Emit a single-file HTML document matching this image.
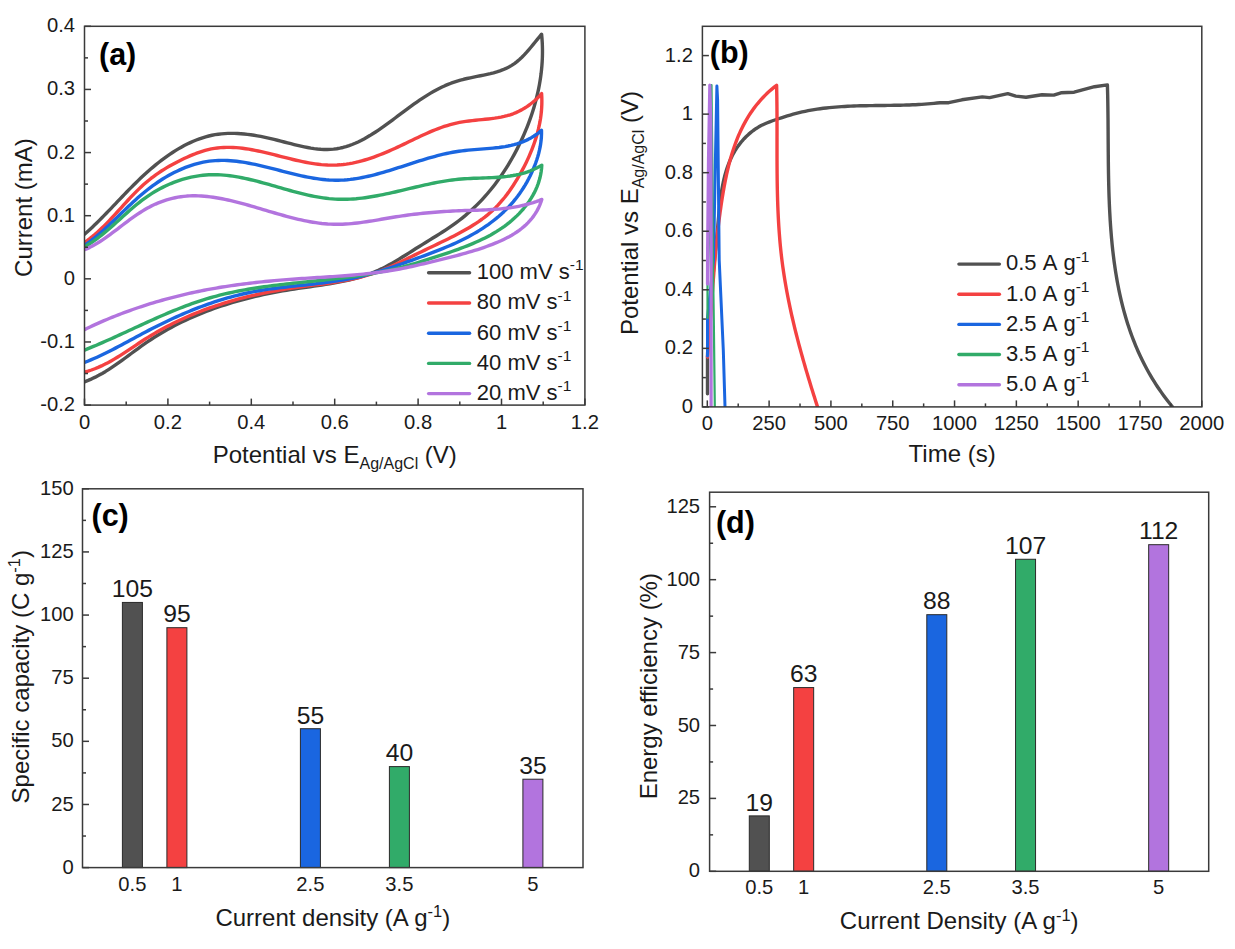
<!DOCTYPE html>
<html><head><meta charset="utf-8"><style>
html,body{margin:0;padding:0;background:#fff;}
body{width:1235px;height:949px;overflow:hidden;}
svg{display:block;font-family:"Liberation Sans",sans-serif;}
</style></head><body>
<svg width="1235" height="949" viewBox="0 0 1235 949">
<rect width="1235" height="949" fill="#fff"/>
<defs><clipPath id="clipA"><rect x="84.5" y="26.3" width="500.4" height="378.8"/></clipPath>
<clipPath id="clipB"><rect x="702.4" y="26.3" width="499.4" height="380.6"/></clipPath></defs>
<g clip-path="url(#clipA)">
<path d="M84.50,234.30 L87.07,232.01 L89.60,229.71 L92.09,227.39 L94.54,225.06 L96.95,222.73 L99.33,220.38 L101.69,218.03 L104.01,215.67 L106.32,213.31 L108.61,210.94 L110.89,208.57 L113.15,206.20 L115.41,203.83 L117.66,201.45 L119.91,199.09 L122.17,196.72 L124.43,194.36 L126.70,192.01 L128.98,189.66 L131.29,187.32 L133.61,184.99 L135.95,182.67 L138.33,180.36 L140.73,178.07 L143.17,175.78 L145.65,173.52 L148.16,171.27 L150.72,169.04 L153.32,166.84 L155.96,164.66 L158.64,162.52 L161.35,160.42 L164.10,158.37 L166.89,156.36 L169.70,154.40 L172.55,152.50 L175.43,150.67 L178.34,148.90 L181.28,147.21 L184.24,145.59 L187.23,144.05 L190.25,142.60 L193.28,141.25 L196.34,139.98 L199.42,138.82 L202.52,137.77 L205.64,136.82 L208.78,135.99 L211.93,135.28 L215.09,134.69 L218.27,134.21 L221.47,133.85 L224.68,133.58 L227.90,133.42 L231.13,133.36 L234.38,133.39 L237.63,133.51 L240.90,133.71 L244.18,133.99 L247.47,134.35 L250.77,134.78 L254.07,135.28 L257.39,135.83 L260.71,136.45 L264.04,137.12 L267.38,137.84 L270.73,138.60 L274.08,139.41 L277.43,140.25 L280.79,141.11 L284.15,141.98 L287.51,142.85 L290.87,143.71 L294.22,144.56 L297.57,145.37 L300.91,146.13 L304.25,146.85 L307.57,147.50 L310.88,148.08 L314.18,148.57 L317.46,148.97 L320.72,149.26 L323.97,149.43 L327.19,149.48 L330.40,149.38 L333.57,149.14 L336.73,148.74 L339.86,148.18 L342.96,147.47 L346.04,146.62 L349.09,145.63 L352.12,144.51 L355.13,143.28 L358.12,141.93 L361.08,140.48 L364.02,138.94 L366.94,137.30 L369.85,135.59 L372.73,133.81 L375.59,131.97 L378.44,130.07 L381.27,128.12 L384.08,126.14 L386.87,124.13 L389.65,122.09 L392.41,120.04 L395.16,117.99 L397.90,115.93 L400.62,113.89 L403.33,111.85 L406.04,109.84 L408.74,107.85 L411.44,105.88 L414.14,103.94 L416.85,102.04 L419.57,100.17 L422.30,98.34 L425.05,96.56 L427.82,94.83 L430.61,93.15 L433.42,91.53 L436.26,89.97 L439.14,88.47 L442.05,87.04 L445.00,85.68 L447.99,84.40 L451.03,83.21 L454.12,82.09 L457.25,81.06 L460.45,80.13 L463.69,79.28 L466.98,78.51 L470.30,77.79 L473.64,77.10 L477.00,76.44 L480.36,75.78 L483.70,75.10 L487.03,74.38 L490.33,73.62 L493.59,72.79 L496.80,71.87 L499.94,70.85 L503.02,69.70 L506.01,68.42 L508.91,66.98 L511.71,65.37 L514.40,63.57 L516.98,61.60 L519.47,59.48 L521.88,57.22 L524.22,54.85 L526.49,52.39 L528.72,49.86 L530.91,47.27 L533.06,44.64 L535.20,42.01 L537.33,39.37 L539.46,36.76 L541.60,34.20 L541.60,34.20 L541.96,38.12 L542.22,42.04 L542.39,45.96 L542.47,49.88 L542.46,53.80 L542.37,57.72 L542.18,61.63 L541.91,65.54 L541.56,69.44 L541.13,73.34 L540.61,77.23 L540.02,81.10 L539.35,84.97 L538.60,88.83 L537.78,92.67 L536.88,96.51 L535.92,100.32 L534.88,104.12 L533.78,107.91 L532.60,111.68 L531.37,115.42 L530.07,119.15 L528.70,122.86 L527.28,126.54 L525.80,130.21 L524.25,133.84 L522.66,137.46 L521.00,141.04 L519.30,144.60 L517.54,148.13 L515.73,151.63 L513.87,155.10 L511.95,158.54 L509.98,161.94 L507.96,165.30 L505.88,168.63 L503.75,171.92 L501.57,175.17 L499.33,178.38 L497.04,181.54 L494.69,184.66 L492.29,187.73 L489.83,190.76 L487.32,193.73 L484.75,196.66 L482.12,199.53 L479.44,202.35 L476.70,205.12 L473.91,207.83 L471.05,210.48 L468.14,213.07 L465.18,215.60 L462.15,218.07 L459.07,220.47 L455.93,222.82 L452.74,225.10 L449.50,227.34 L446.23,229.54 L442.92,231.71 L439.59,233.84 L436.23,235.96 L432.85,238.06 L429.46,240.15 L426.07,242.24 L422.67,244.33 L419.28,246.43 L415.89,248.56 L412.52,250.69 L409.15,252.82 L405.77,254.95 L402.40,257.06 L399.01,259.13 L395.61,261.16 L392.20,263.14 L388.76,265.06 L385.30,266.90 L381.82,268.66 L378.29,270.32 L374.73,271.88 L371.13,273.33 L367.50,274.67 L363.83,275.91 L360.13,277.07 L356.40,278.14 L352.64,279.13 L348.85,280.05 L345.04,280.91 L341.21,281.70 L337.36,282.45 L333.49,283.15 L329.61,283.80 L325.71,284.43 L321.80,285.03 L317.88,285.61 L313.96,286.17 L310.03,286.73 L306.10,287.28 L302.17,287.84 L298.24,288.41 L294.32,289.00 L290.40,289.61 L286.48,290.25 L282.58,290.92 L278.68,291.62 L274.80,292.34 L270.92,293.10 L267.05,293.89 L263.19,294.70 L259.34,295.55 L255.50,296.44 L251.68,297.35 L247.86,298.30 L244.06,299.29 L240.27,300.31 L236.49,301.36 L232.73,302.46 L228.98,303.59 L225.25,304.76 L221.53,305.97 L217.83,307.22 L214.14,308.51 L210.47,309.84 L206.82,311.21 L203.19,312.62 L199.57,314.08 L195.97,315.58 L192.39,317.13 L188.83,318.73 L185.29,320.36 L181.77,322.05 L178.27,323.78 L174.79,325.57 L171.33,327.40 L167.90,329.28 L164.49,331.21 L161.10,333.19 L157.73,335.23 L154.39,337.31 L151.08,339.45 L147.78,341.65 L144.52,343.90 L141.27,346.19 L138.05,348.53 L134.83,350.88 L131.62,353.25 L128.42,355.63 L125.21,358.00 L121.99,360.35 L118.75,362.67 L115.50,364.95 L112.22,367.17 L108.91,369.34 L105.57,371.43 L102.19,373.43 L98.76,375.34 L95.29,377.14 L91.75,378.83 L88.16,380.38 L84.50,381.80" fill="none" stroke="#515151" stroke-width="3.4" stroke-linejoin="round" stroke-linecap="round"/>
<path d="M84.50,242.40 L87.15,240.52 L89.74,238.58 L92.27,236.58 L94.74,234.53 L97.15,232.42 L99.52,230.28 L101.85,228.09 L104.13,225.87 L106.38,223.61 L108.60,221.33 L110.80,219.02 L112.97,216.70 L115.13,214.36 L117.27,212.01 L119.41,209.65 L121.54,207.29 L123.67,204.94 L125.81,202.59 L127.96,200.26 L130.12,197.93 L132.30,195.63 L134.51,193.36 L136.74,191.11 L139.01,188.90 L141.31,186.72 L143.65,184.58 L146.04,182.50 L148.48,180.46 L150.97,178.47 L153.50,176.54 L156.09,174.65 L158.72,172.82 L161.40,171.04 L164.11,169.31 L166.86,167.63 L169.65,166.00 L172.48,164.41 L175.33,162.88 L178.22,161.39 L181.13,159.95 L184.07,158.56 L187.03,157.21 L190.01,155.91 L193.01,154.66 L196.03,153.47 L199.06,152.36 L202.11,151.34 L205.17,150.42 L208.24,149.61 L211.31,148.93 L214.40,148.38 L217.49,147.95 L220.59,147.64 L223.70,147.44 L226.81,147.35 L229.92,147.36 L233.05,147.46 L236.17,147.66 L239.31,147.93 L242.44,148.28 L245.58,148.71 L248.73,149.19 L251.88,149.74 L255.03,150.34 L258.18,150.98 L261.34,151.67 L264.50,152.39 L267.66,153.15 L270.82,153.92 L273.98,154.71 L277.15,155.52 L280.31,156.32 L283.48,157.13 L286.64,157.93 L289.81,158.72 L292.97,159.49 L296.14,160.24 L299.30,160.96 L302.46,161.64 L305.62,162.27 L308.77,162.86 L311.92,163.40 L315.07,163.87 L318.22,164.28 L321.36,164.62 L324.50,164.88 L327.64,165.06 L330.77,165.15 L333.89,165.14 L337.01,165.03 L340.13,164.82 L343.23,164.51 L346.34,164.11 L349.43,163.62 L352.52,163.05 L355.60,162.40 L358.67,161.67 L361.73,160.87 L364.79,160.00 L367.83,159.07 L370.87,158.08 L373.89,157.03 L376.91,155.93 L379.91,154.78 L382.90,153.59 L385.88,152.36 L388.85,151.09 L391.81,149.79 L394.75,148.46 L397.68,147.11 L400.60,145.74 L403.50,144.36 L406.40,142.97 L409.29,141.58 L412.17,140.18 L415.05,138.80 L417.93,137.42 L420.82,136.07 L423.70,134.73 L426.60,133.43 L429.50,132.15 L432.41,130.92 L435.34,129.73 L438.28,128.59 L441.24,127.50 L444.22,126.48 L447.22,125.52 L450.25,124.62 L453.30,123.81 L456.38,123.07 L459.49,122.43 L462.63,121.86 L465.80,121.38 L468.99,120.96 L472.20,120.59 L475.42,120.25 L478.65,119.93 L481.88,119.63 L485.11,119.31 L488.32,118.97 L491.52,118.59 L494.71,118.17 L497.86,117.68 L500.99,117.11 L504.08,116.45 L507.13,115.69 L510.14,114.80 L513.09,113.78 L515.99,112.62 L518.83,111.32 L521.61,109.88 L524.34,108.30 L527.00,106.59 L529.60,104.75 L532.13,102.78 L534.60,100.67 L537.01,98.44 L539.34,96.08 L541.60,93.60 L541.60,93.60 L541.80,97.21 L541.87,100.81 L541.82,104.40 L541.66,107.98 L541.38,111.56 L540.99,115.12 L540.49,118.66 L539.89,122.20 L539.19,125.72 L538.39,129.22 L537.50,132.71 L536.52,136.18 L535.45,139.63 L534.30,143.05 L533.08,146.46 L531.77,149.85 L530.39,153.21 L528.95,156.55 L527.44,159.86 L525.86,163.14 L524.23,166.40 L522.55,169.63 L520.81,172.83 L519.02,175.99 L517.18,179.12 L515.29,182.22 L513.35,185.27 L511.34,188.27 L509.28,191.22 L507.15,194.12 L504.96,196.96 L502.70,199.73 L500.37,202.44 L497.97,205.08 L495.49,207.65 L492.93,210.13 L490.29,212.54 L487.57,214.86 L484.77,217.09 L481.89,219.25 L478.96,221.33 L475.96,223.34 L472.92,225.29 L469.83,227.18 L466.70,229.01 L463.55,230.80 L460.37,232.54 L457.18,234.24 L453.97,235.91 L450.76,237.55 L447.53,239.16 L444.29,240.75 L441.05,242.33 L437.80,243.89 L434.54,245.45 L431.28,247.00 L428.02,248.55 L424.76,250.11 L421.49,251.68 L418.22,253.27 L414.96,254.87 L411.70,256.49 L408.43,258.11 L405.16,259.72 L401.88,261.32 L398.60,262.91 L395.31,264.46 L392.00,265.98 L388.69,267.45 L385.35,268.88 L382.00,270.24 L378.63,271.53 L375.25,272.75 L371.83,273.89 L368.40,274.96 L364.95,275.95 L361.49,276.88 L358.00,277.74 L354.50,278.55 L350.98,279.31 L347.45,280.02 L343.91,280.68 L340.36,281.31 L336.80,281.89 L333.23,282.45 L329.65,282.98 L326.06,283.49 L322.47,283.99 L318.87,284.46 L315.27,284.93 L311.67,285.40 L308.07,285.87 L304.47,286.34 L300.87,286.82 L297.27,287.31 L293.68,287.82 L290.09,288.35 L286.50,288.91 L282.92,289.49 L279.35,290.09 L275.78,290.72 L272.22,291.37 L268.67,292.05 L265.12,292.76 L261.58,293.49 L258.05,294.25 L254.53,295.04 L251.01,295.85 L247.51,296.69 L244.01,297.57 L240.52,298.47 L237.04,299.40 L233.58,300.36 L230.12,301.35 L226.67,302.37 L223.24,303.43 L219.81,304.51 L216.40,305.63 L213.00,306.78 L209.61,307.97 L206.23,309.18 L202.86,310.44 L199.51,311.72 L196.18,313.04 L192.85,314.40 L189.54,315.79 L186.25,317.22 L182.97,318.69 L179.70,320.19 L176.45,321.73 L173.21,323.31 L169.99,324.93 L166.79,326.58 L163.61,328.28 L160.44,330.01 L157.28,331.79 L154.15,333.61 L151.03,335.46 L147.93,337.36 L144.85,339.30 L141.79,341.28 L138.74,343.28 L135.69,345.30 L132.65,347.33 L129.61,349.36 L126.56,351.37 L123.50,353.37 L120.43,355.33 L117.34,357.25 L114.23,359.12 L111.09,360.93 L107.92,362.68 L104.71,364.34 L101.47,365.91 L98.18,367.38 L94.84,368.75 L91.45,370.00 L88.01,371.12 L84.50,372.10" fill="none" stroke="#f44141" stroke-width="3.4" stroke-linejoin="round" stroke-linecap="round"/>
<path d="M84.50,245.40 L87.04,243.61 L89.54,241.77 L91.99,239.88 L94.41,237.96 L96.80,235.99 L99.16,233.99 L101.49,231.96 L103.80,229.90 L106.09,227.81 L108.36,225.71 L110.62,223.58 L112.86,221.44 L115.10,219.29 L117.34,217.13 L119.57,214.96 L121.81,212.79 L124.05,210.63 L126.30,208.46 L128.56,206.31 L130.84,204.16 L133.13,202.04 L135.45,199.92 L137.79,197.83 L140.15,195.77 L142.55,193.73 L144.99,191.72 L147.45,189.75 L149.96,187.81 L152.51,185.91 L155.10,184.06 L157.72,182.25 L160.37,180.50 L163.06,178.79 L165.78,177.15 L168.53,175.56 L171.30,174.03 L174.11,172.57 L176.93,171.17 L179.79,169.85 L182.66,168.59 L185.56,167.42 L188.47,166.33 L191.40,165.32 L194.35,164.39 L197.32,163.56 L200.29,162.81 L203.28,162.16 L206.28,161.61 L209.29,161.17 L212.31,160.82 L215.33,160.58 L218.36,160.43 L221.39,160.37 L224.43,160.40 L227.48,160.51 L230.53,160.70 L233.59,160.96 L236.65,161.29 L239.72,161.69 L242.79,162.14 L245.86,162.65 L248.94,163.21 L252.02,163.81 L255.10,164.45 L258.19,165.13 L261.28,165.84 L264.37,166.58 L267.46,167.34 L270.55,168.11 L273.64,168.90 L276.74,169.70 L279.83,170.50 L282.92,171.30 L286.02,172.09 L289.11,172.88 L292.20,173.64 L295.29,174.39 L298.38,175.12 L301.46,175.81 L304.55,176.47 L307.63,177.10 L310.71,177.68 L313.78,178.21 L316.85,178.69 L319.92,179.12 L322.98,179.48 L326.04,179.78 L329.09,180.00 L332.14,180.15 L335.18,180.23 L338.22,180.21 L341.25,180.12 L344.27,179.95 L347.30,179.71 L350.31,179.40 L353.32,179.02 L356.33,178.57 L359.34,178.07 L362.34,177.51 L365.34,176.90 L368.34,176.25 L371.33,175.54 L374.32,174.79 L377.32,174.01 L380.31,173.19 L383.30,172.34 L386.29,171.46 L389.28,170.56 L392.27,169.64 L395.26,168.69 L398.25,167.74 L401.25,166.78 L404.24,165.81 L407.24,164.83 L410.24,163.86 L413.24,162.89 L416.25,161.93 L419.26,160.98 L422.27,160.04 L425.29,159.13 L428.31,158.23 L431.34,157.36 L434.37,156.52 L437.41,155.71 L440.46,154.93 L443.51,154.20 L446.56,153.51 L449.63,152.86 L452.70,152.26 L455.78,151.72 L458.87,151.24 L461.96,150.81 L465.06,150.44 L468.17,150.12 L471.28,149.84 L474.40,149.58 L477.51,149.34 L480.62,149.12 L483.72,148.89 L486.81,148.66 L489.90,148.41 L492.98,148.13 L496.04,147.81 L499.08,147.46 L502.11,147.04 L505.12,146.57 L508.11,146.02 L511.07,145.38 L514.01,144.66 L516.92,143.84 L519.80,142.91 L522.64,141.86 L525.46,140.68 L528.23,139.36 L530.97,137.90 L533.67,136.28 L536.33,134.50 L538.94,132.54 L541.50,130.40 L541.50,130.40 L541.52,133.69 L541.39,136.99 L541.11,140.30 L540.69,143.61 L540.14,146.91 L539.46,150.21 L538.66,153.50 L537.74,156.78 L536.71,160.04 L535.58,163.28 L534.34,166.49 L533.02,169.68 L531.61,172.83 L530.11,175.95 L528.53,179.03 L526.88,182.07 L525.14,185.06 L523.33,188.00 L521.44,190.89 L519.49,193.71 L517.46,196.48 L515.36,199.18 L513.19,201.81 L510.95,204.37 L508.66,206.87 L506.30,209.29 L503.88,211.66 L501.40,213.95 L498.87,216.19 L496.29,218.36 L493.65,220.47 L490.97,222.52 L488.24,224.52 L485.47,226.45 L482.65,228.33 L479.80,230.16 L476.90,231.93 L473.97,233.65 L471.01,235.31 L468.02,236.93 L464.99,238.50 L461.94,240.02 L458.86,241.51 L455.77,242.95 L452.64,244.35 L449.50,245.72 L446.35,247.06 L443.17,248.38 L439.98,249.66 L436.79,250.93 L433.58,252.17 L430.36,253.40 L427.14,254.61 L423.91,255.81 L420.68,257.00 L417.46,258.19 L414.23,259.37 L411.00,260.55 L407.78,261.71 L404.55,262.87 L401.33,264.02 L398.10,265.15 L394.87,266.26 L391.63,267.35 L388.39,268.43 L385.15,269.48 L381.90,270.50 L378.65,271.50 L375.38,272.47 L372.12,273.41 L368.84,274.31 L365.55,275.18 L362.26,276.01 L358.95,276.79 L355.63,277.54 L352.30,278.24 L348.96,278.90 L345.61,279.53 L342.25,280.11 L338.88,280.66 L335.51,281.19 L332.12,281.68 L328.73,282.15 L325.33,282.59 L321.93,283.02 L318.52,283.43 L315.11,283.82 L311.70,284.21 L308.28,284.58 L304.87,284.95 L301.45,285.32 L298.03,285.68 L294.61,286.05 L291.19,286.43 L287.78,286.81 L284.37,287.20 L280.96,287.60 L277.55,288.02 L274.15,288.46 L270.76,288.93 L267.37,289.41 L263.99,289.93 L260.62,290.47 L257.25,291.05 L253.90,291.66 L250.55,292.31 L247.22,293.00 L243.90,293.73 L240.58,294.50 L237.28,295.30 L233.99,296.15 L230.70,297.03 L227.43,297.95 L224.17,298.90 L220.91,299.88 L217.67,300.91 L214.44,301.96 L211.22,303.04 L208.00,304.16 L204.80,305.31 L201.60,306.49 L198.42,307.69 L195.24,308.93 L192.08,310.19 L188.92,311.48 L185.77,312.80 L182.63,314.14 L179.51,315.51 L176.38,316.90 L173.27,318.31 L170.17,319.75 L167.08,321.21 L163.99,322.69 L160.91,324.19 L157.85,325.70 L154.79,327.24 L151.74,328.80 L148.69,330.37 L145.66,331.96 L142.63,333.56 L139.61,335.18 L136.59,336.80 L133.58,338.43 L130.57,340.06 L127.55,341.69 L124.54,343.31 L121.52,344.93 L118.50,346.53 L115.47,348.12 L112.44,349.70 L109.39,351.25 L106.33,352.77 L103.26,354.27 L100.18,355.74 L97.08,357.17 L93.97,358.57 L90.83,359.92 L87.68,361.24 L84.50,362.50" fill="none" stroke="#1a66e0" stroke-width="3.4" stroke-linejoin="round" stroke-linecap="round"/>
<path d="M84.50,246.80 L87.09,245.30 L89.64,243.72 L92.15,242.07 L94.63,240.35 L97.08,238.57 L99.50,236.74 L101.89,234.85 L104.26,232.92 L106.62,230.95 L108.96,228.95 L111.29,226.92 L113.61,224.87 L115.92,222.80 L118.23,220.71 L120.54,218.62 L122.85,216.54 L125.17,214.45 L127.50,212.38 L129.84,210.32 L132.20,208.28 L134.57,206.27 L136.97,204.29 L139.39,202.35 L141.84,200.46 L144.32,198.61 L146.83,196.82 L149.38,195.08 L151.97,193.41 L154.59,191.80 L157.24,190.26 L159.93,188.78 L162.65,187.37 L165.39,186.03 L168.16,184.75 L170.96,183.55 L173.78,182.42 L176.62,181.36 L179.48,180.37 L182.36,179.46 L185.26,178.62 L188.18,177.87 L191.11,177.19 L194.05,176.59 L197.00,176.07 L199.96,175.63 L202.93,175.28 L205.90,175.01 L208.88,174.82 L211.86,174.73 L214.85,174.71 L217.84,174.78 L220.83,174.92 L223.82,175.14 L226.81,175.42 L229.81,175.77 L232.81,176.18 L235.81,176.65 L238.81,177.17 L241.81,177.74 L244.81,178.36 L247.82,179.02 L250.83,179.72 L253.84,180.45 L256.84,181.21 L259.86,181.99 L262.87,182.81 L265.88,183.63 L268.89,184.48 L271.90,185.33 L274.92,186.20 L277.93,187.06 L280.95,187.93 L283.96,188.79 L286.98,189.65 L289.99,190.49 L293.01,191.32 L296.02,192.12 L299.03,192.91 L302.05,193.67 L305.06,194.39 L308.07,195.09 L311.09,195.74 L314.10,196.35 L317.11,196.91 L320.11,197.43 L323.12,197.89 L326.13,198.29 L329.13,198.64 L332.14,198.91 L335.14,199.12 L338.14,199.25 L341.14,199.32 L344.14,199.32 L347.13,199.25 L350.13,199.13 L353.12,198.94 L356.12,198.71 L359.11,198.41 L362.10,198.08 L365.09,197.69 L368.09,197.26 L371.08,196.79 L374.07,196.29 L377.06,195.75 L380.05,195.18 L383.05,194.58 L386.04,193.96 L389.03,193.32 L392.03,192.65 L395.02,191.97 L398.02,191.28 L401.01,190.58 L404.01,189.87 L407.01,189.15 L410.01,188.44 L413.02,187.73 L416.02,187.02 L419.03,186.32 L422.04,185.63 L425.05,184.95 L428.07,184.30 L431.08,183.66 L434.10,183.04 L437.12,182.45 L440.15,181.89 L443.18,181.36 L446.21,180.87 L449.24,180.41 L452.28,179.99 L455.32,179.62 L458.37,179.29 L461.42,179.02 L464.47,178.79 L467.53,178.60 L470.58,178.44 L473.64,178.31 L476.70,178.20 L479.75,178.10 L482.81,178.00 L485.86,177.89 L488.90,177.78 L491.94,177.64 L494.97,177.48 L498.00,177.29 L501.02,177.05 L504.02,176.76 L507.02,176.42 L510.00,176.01 L512.98,175.53 L515.94,174.98 L518.88,174.33 L521.81,173.60 L524.72,172.76 L527.62,171.82 L530.50,170.75 L533.35,169.57 L536.19,168.25 L539.01,166.80 L541.80,165.20 L541.80,165.20 L541.57,168.48 L541.16,171.71 L540.60,174.89 L539.89,178.02 L539.02,181.10 L538.02,184.12 L536.88,187.10 L535.60,190.01 L534.20,192.88 L532.68,195.68 L531.04,198.42 L529.30,201.11 L527.44,203.73 L525.49,206.29 L523.45,208.78 L521.32,211.21 L519.10,213.58 L516.81,215.87 L514.45,218.09 L512.02,220.25 L509.53,222.33 L506.98,224.34 L504.39,226.27 L501.74,228.13 L499.06,229.92 L496.33,231.64 L493.56,233.30 L490.76,234.90 L487.92,236.43 L485.04,237.92 L482.14,239.35 L479.21,240.73 L476.25,242.07 L473.26,243.36 L470.26,244.62 L467.23,245.83 L464.19,247.02 L461.13,248.17 L458.06,249.30 L454.98,250.40 L451.89,251.48 L448.79,252.55 L445.69,253.60 L442.59,254.63 L439.49,255.66 L436.39,256.68 L433.29,257.70 L430.19,258.71 L427.09,259.70 L424.00,260.69 L420.90,261.65 L417.80,262.61 L414.70,263.54 L411.59,264.45 L408.48,265.34 L405.36,266.21 L402.24,267.04 L399.12,267.85 L395.98,268.63 L392.84,269.38 L389.69,270.09 L386.53,270.78 L383.36,271.44 L380.19,272.07 L377.01,272.68 L373.83,273.26 L370.64,273.82 L367.44,274.36 L364.24,274.87 L361.04,275.37 L357.83,275.85 L354.61,276.31 L351.39,276.75 L348.17,277.18 L344.95,277.59 L341.72,277.99 L338.49,278.38 L335.25,278.76 L332.01,279.13 L328.78,279.49 L325.54,279.85 L322.30,280.20 L319.05,280.54 L315.81,280.88 L312.57,281.22 L309.32,281.56 L306.08,281.89 L302.84,282.23 L299.59,282.57 L296.35,282.91 L293.11,283.26 L289.87,283.62 L286.64,283.98 L283.40,284.35 L280.17,284.72 L276.94,285.11 L273.72,285.51 L270.49,285.93 L267.28,286.35 L264.06,286.79 L260.85,287.25 L257.64,287.73 L254.44,288.22 L251.25,288.74 L248.06,289.27 L244.87,289.83 L241.69,290.41 L238.52,291.01 L235.36,291.64 L232.20,292.30 L229.05,292.98 L225.90,293.70 L222.77,294.44 L219.64,295.22 L216.52,296.03 L213.41,296.87 L210.31,297.74 L207.21,298.66 L204.13,299.60 L201.05,300.58 L197.99,301.60 L194.93,302.64 L191.88,303.71 L188.84,304.81 L185.80,305.94 L182.77,307.09 L179.75,308.27 L176.73,309.47 L173.72,310.69 L170.72,311.93 L167.72,313.19 L164.72,314.46 L161.73,315.75 L158.74,317.06 L155.76,318.37 L152.78,319.70 L149.81,321.04 L146.83,322.38 L143.86,323.74 L140.90,325.09 L137.93,326.46 L134.96,327.82 L132.00,329.19 L129.04,330.56 L126.08,331.92 L123.12,333.28 L120.15,334.64 L117.19,335.99 L114.23,337.34 L111.27,338.68 L108.30,340.00 L105.34,341.32 L102.37,342.62 L99.40,343.91 L96.43,345.19 L93.45,346.44 L90.47,347.68 L87.49,348.90 L84.50,350.10" fill="none" stroke="#31ab69" stroke-width="3.4" stroke-linejoin="round" stroke-linecap="round"/>
<path d="M84.50,249.80 L87.17,248.63 L89.80,247.36 L92.41,246.00 L94.99,244.56 L97.54,243.04 L100.07,241.45 L102.59,239.80 L105.09,238.09 L107.57,236.34 L110.04,234.55 L112.51,232.73 L114.96,230.88 L117.42,229.02 L119.87,227.14 L122.33,225.27 L124.79,223.40 L127.25,221.54 L129.73,219.71 L132.22,217.90 L134.72,216.13 L137.24,214.40 L139.78,212.72 L142.34,211.09 L144.93,209.54 L147.54,208.05 L150.19,206.64 L152.86,205.32 L155.56,204.07 L158.29,202.91 L161.04,201.83 L163.82,200.84 L166.61,199.93 L169.43,199.11 L172.27,198.38 L175.12,197.73 L177.99,197.18 L180.88,196.72 L183.78,196.35 L186.70,196.07 L189.62,195.89 L192.55,195.80 L195.50,195.79 L198.44,195.87 L201.40,196.02 L204.35,196.25 L207.31,196.54 L210.26,196.88 L213.21,197.29 L216.16,197.74 L219.10,198.24 L222.05,198.78 L224.99,199.37 L227.93,200.00 L230.87,200.66 L233.80,201.36 L236.74,202.08 L239.67,202.84 L242.61,203.62 L245.54,204.42 L248.47,205.24 L251.40,206.08 L254.32,206.93 L257.25,207.79 L260.18,208.65 L263.11,209.53 L266.03,210.40 L268.96,211.27 L271.89,212.14 L274.82,213.00 L277.74,213.85 L280.67,214.69 L283.60,215.51 L286.53,216.32 L289.46,217.10 L292.39,217.85 L295.33,218.58 L298.26,219.28 L301.20,219.95 L304.13,220.58 L307.07,221.17 L310.01,221.72 L312.96,222.22 L315.90,222.68 L318.85,223.08 L321.80,223.44 L324.75,223.73 L327.71,223.97 L330.66,224.14 L333.62,224.25 L336.59,224.29 L339.56,224.26 L342.53,224.18 L345.50,224.03 L348.47,223.83 L351.45,223.58 L354.43,223.29 L357.41,222.95 L360.39,222.58 L363.37,222.18 L366.36,221.74 L369.35,221.29 L372.33,220.81 L375.32,220.32 L378.30,219.81 L381.29,219.30 L384.28,218.79 L387.27,218.28 L390.25,217.77 L393.24,217.28 L396.22,216.79 L399.20,216.33 L402.19,215.88 L405.17,215.46 L408.15,215.05 L411.13,214.66 L414.10,214.29 L417.08,213.94 L420.06,213.61 L423.04,213.30 L426.02,213.00 L429.00,212.72 L431.99,212.45 L434.97,212.21 L437.95,211.97 L440.94,211.76 L443.93,211.56 L446.91,211.37 L449.91,211.20 L452.90,211.05 L455.90,210.91 L458.90,210.78 L461.90,210.67 L464.90,210.57 L467.91,210.47 L470.92,210.38 L473.93,210.29 L476.94,210.19 L479.94,210.09 L482.95,209.97 L485.96,209.84 L488.96,209.69 L491.96,209.52 L494.95,209.32 L497.94,209.09 L500.93,208.82 L503.91,208.52 L506.88,208.18 L509.85,207.79 L512.80,207.35 L515.75,206.85 L518.69,206.30 L521.62,205.69 L524.54,205.02 L527.45,204.27 L530.35,203.46 L533.23,202.57 L536.10,201.60 L538.96,200.54 L541.80,199.40 L541.80,199.40 L540.80,202.45 L539.66,205.37 L538.38,208.17 L536.96,210.85 L535.42,213.42 L533.76,215.88 L531.99,218.23 L530.10,220.47 L528.11,222.62 L526.02,224.67 L523.84,226.63 L521.57,228.50 L519.22,230.29 L516.79,231.99 L514.29,233.62 L511.73,235.18 L509.10,236.66 L506.42,238.08 L503.68,239.44 L500.91,240.75 L498.09,241.99 L495.25,243.19 L492.37,244.34 L489.47,245.45 L486.55,246.52 L483.62,247.55 L480.67,248.55 L477.71,249.51 L474.73,250.45 L471.75,251.35 L468.75,252.23 L465.75,253.09 L462.74,253.92 L459.72,254.74 L456.70,255.54 L453.68,256.32 L450.66,257.09 L447.64,257.86 L444.62,258.61 L441.60,259.36 L438.59,260.10 L435.59,260.84 L432.59,261.58 L429.59,262.31 L426.60,263.04 L423.61,263.76 L420.62,264.46 L417.64,265.16 L414.65,265.84 L411.67,266.50 L408.68,267.15 L405.69,267.77 L402.69,268.38 L399.70,268.96 L396.69,269.51 L393.69,270.04 L390.67,270.54 L387.66,271.02 L384.63,271.48 L381.61,271.91 L378.58,272.32 L375.54,272.71 L372.50,273.08 L369.46,273.43 L366.41,273.77 L363.36,274.09 L360.30,274.39 L357.25,274.68 L354.19,274.95 L351.12,275.21 L348.06,275.46 L344.99,275.70 L341.92,275.94 L338.85,276.16 L335.77,276.37 L332.70,276.58 L329.62,276.79 L326.54,276.99 L323.46,277.18 L320.39,277.38 L317.31,277.57 L314.23,277.76 L311.15,277.95 L308.06,278.15 L304.98,278.35 L301.91,278.55 L298.83,278.75 L295.75,278.97 L292.67,279.18 L289.60,279.41 L286.52,279.65 L283.45,279.89 L280.38,280.14 L277.30,280.40 L274.24,280.67 L271.17,280.95 L268.10,281.24 L265.04,281.54 L261.97,281.86 L258.91,282.18 L255.85,282.51 L252.79,282.86 L249.74,283.22 L246.68,283.59 L243.63,283.97 L240.58,284.37 L237.53,284.78 L234.48,285.21 L231.44,285.64 L228.39,286.10 L225.35,286.57 L222.31,287.05 L219.28,287.55 L216.24,288.06 L213.21,288.59 L210.18,289.14 L207.15,289.70 L204.12,290.29 L201.10,290.88 L198.08,291.50 L195.06,292.13 L192.05,292.78 L189.04,293.45 L186.03,294.13 L183.03,294.83 L180.03,295.55 L177.03,296.29 L174.04,297.05 L171.06,297.82 L168.08,298.61 L165.10,299.42 L162.13,300.24 L159.16,301.09 L156.20,301.95 L153.25,302.83 L150.30,303.73 L147.35,304.65 L144.42,305.58 L141.48,306.54 L138.56,307.51 L135.64,308.50 L132.73,309.51 L129.83,310.54 L126.93,311.59 L124.04,312.65 L121.16,313.74 L118.29,314.84 L115.43,315.96 L112.57,317.11 L109.72,318.27 L106.88,319.45 L104.05,320.65 L101.23,321.87 L98.42,323.11 L95.61,324.37 L92.82,325.65 L90.04,326.94 L87.26,328.26 L84.50,329.60" fill="none" stroke="#b274de" stroke-width="3.4" stroke-linejoin="round" stroke-linecap="round"/>
</g>
<rect x="84.5" y="26.3" width="500.4" height="378.8" fill="none" stroke="#3a3a3a" stroke-width="1.5"/>
<line x1="84.5" y1="405.1" x2="91" y2="405.1" stroke="#3a3a3a" stroke-width="1.5"/>
<line x1="84.5" y1="341.97" x2="91" y2="341.97" stroke="#3a3a3a" stroke-width="1.5"/>
<line x1="84.5" y1="278.83" x2="91" y2="278.83" stroke="#3a3a3a" stroke-width="1.5"/>
<line x1="84.5" y1="215.7" x2="91" y2="215.7" stroke="#3a3a3a" stroke-width="1.5"/>
<line x1="84.5" y1="152.57" x2="91" y2="152.57" stroke="#3a3a3a" stroke-width="1.5"/>
<line x1="84.5" y1="89.43" x2="91" y2="89.43" stroke="#3a3a3a" stroke-width="1.5"/>
<line x1="84.5" y1="26.3" x2="91" y2="26.3" stroke="#3a3a3a" stroke-width="1.5"/>
<line x1="84.5" y1="373.53" x2="88" y2="373.53" stroke="#3a3a3a" stroke-width="1.5"/>
<line x1="84.5" y1="310.4" x2="88" y2="310.4" stroke="#3a3a3a" stroke-width="1.5"/>
<line x1="84.5" y1="247.27" x2="88" y2="247.27" stroke="#3a3a3a" stroke-width="1.5"/>
<line x1="84.5" y1="184.13" x2="88" y2="184.13" stroke="#3a3a3a" stroke-width="1.5"/>
<line x1="84.5" y1="121" x2="88" y2="121" stroke="#3a3a3a" stroke-width="1.5"/>
<line x1="84.5" y1="57.87" x2="88" y2="57.87" stroke="#3a3a3a" stroke-width="1.5"/>
<text x="75" y="411.16" font-size="20.2" text-anchor="end" font-weight="normal" fill="#1a1a1a">-0.2</text>
<text x="75" y="348.03" font-size="20.2" text-anchor="end" font-weight="normal" fill="#1a1a1a">-0.1</text>
<text x="75" y="284.89" font-size="20.2" text-anchor="end" font-weight="normal" fill="#1a1a1a">0</text>
<text x="75" y="221.76" font-size="20.2" text-anchor="end" font-weight="normal" fill="#1a1a1a">0.1</text>
<text x="75" y="158.63" font-size="20.2" text-anchor="end" font-weight="normal" fill="#1a1a1a">0.2</text>
<text x="75" y="95.49" font-size="20.2" text-anchor="end" font-weight="normal" fill="#1a1a1a">0.3</text>
<text x="75" y="32.36" font-size="20.2" text-anchor="end" font-weight="normal" fill="#1a1a1a">0.4</text>
<line x1="84.5" y1="405.1" x2="84.5" y2="398.6" stroke="#3a3a3a" stroke-width="1.5"/>
<line x1="167.9" y1="405.1" x2="167.9" y2="398.6" stroke="#3a3a3a" stroke-width="1.5"/>
<line x1="251.3" y1="405.1" x2="251.3" y2="398.6" stroke="#3a3a3a" stroke-width="1.5"/>
<line x1="334.7" y1="405.1" x2="334.7" y2="398.6" stroke="#3a3a3a" stroke-width="1.5"/>
<line x1="418.1" y1="405.1" x2="418.1" y2="398.6" stroke="#3a3a3a" stroke-width="1.5"/>
<line x1="501.5" y1="405.1" x2="501.5" y2="398.6" stroke="#3a3a3a" stroke-width="1.5"/>
<line x1="584.9" y1="405.1" x2="584.9" y2="398.6" stroke="#3a3a3a" stroke-width="1.5"/>
<line x1="126.2" y1="405.1" x2="126.2" y2="401.6" stroke="#3a3a3a" stroke-width="1.5"/>
<line x1="209.6" y1="405.1" x2="209.6" y2="401.6" stroke="#3a3a3a" stroke-width="1.5"/>
<line x1="293" y1="405.1" x2="293" y2="401.6" stroke="#3a3a3a" stroke-width="1.5"/>
<line x1="376.4" y1="405.1" x2="376.4" y2="401.6" stroke="#3a3a3a" stroke-width="1.5"/>
<line x1="459.8" y1="405.1" x2="459.8" y2="401.6" stroke="#3a3a3a" stroke-width="1.5"/>
<line x1="543.2" y1="405.1" x2="543.2" y2="401.6" stroke="#3a3a3a" stroke-width="1.5"/>
<text x="84.5" y="428.7" font-size="20.2" text-anchor="middle" font-weight="normal" fill="#1a1a1a">0</text>
<text x="167.9" y="428.7" font-size="20.2" text-anchor="middle" font-weight="normal" fill="#1a1a1a">0.2</text>
<text x="251.3" y="428.7" font-size="20.2" text-anchor="middle" font-weight="normal" fill="#1a1a1a">0.4</text>
<text x="334.7" y="428.7" font-size="20.2" text-anchor="middle" font-weight="normal" fill="#1a1a1a">0.6</text>
<text x="418.1" y="428.7" font-size="20.2" text-anchor="middle" font-weight="normal" fill="#1a1a1a">0.8</text>
<text x="501.5" y="428.7" font-size="20.2" text-anchor="middle" font-weight="normal" fill="#1a1a1a">1</text>
<text x="584.9" y="428.7" font-size="20.2" text-anchor="middle" font-weight="normal" fill="#1a1a1a">1.2</text>
<line x1="428.6" y1="272.8" x2="469.6" y2="272.8" stroke="#515151" stroke-width="3.4" stroke-linecap="round"/>
<text x="476.8" y="279.1" font-size="22" text-anchor="start" font-weight="normal" fill="#1a1a1a">100 mV s<tspan font-size="15.5" dy="-8.68">-1</tspan></text>
<line x1="428.6" y1="303" x2="469.6" y2="303" stroke="#f44141" stroke-width="3.4" stroke-linecap="round"/>
<text x="476.8" y="309.3" font-size="22" text-anchor="start" font-weight="normal" fill="#1a1a1a">80 mV s<tspan font-size="15.5" dy="-8.68">-1</tspan></text>
<line x1="428.6" y1="333.2" x2="469.6" y2="333.2" stroke="#1a66e0" stroke-width="3.4" stroke-linecap="round"/>
<text x="476.8" y="339.5" font-size="22" text-anchor="start" font-weight="normal" fill="#1a1a1a">60 mV s<tspan font-size="15.5" dy="-8.68">-1</tspan></text>
<line x1="428.6" y1="363.4" x2="469.6" y2="363.4" stroke="#31ab69" stroke-width="3.4" stroke-linecap="round"/>
<text x="476.8" y="369.7" font-size="22" text-anchor="start" font-weight="normal" fill="#1a1a1a">40 mV s<tspan font-size="15.5" dy="-8.68">-1</tspan></text>
<line x1="428.6" y1="393.6" x2="469.6" y2="393.6" stroke="#b274de" stroke-width="3.4" stroke-linecap="round"/>
<text x="476.8" y="399.9" font-size="22" text-anchor="start" font-weight="normal" fill="#1a1a1a">20 mV s<tspan font-size="15.5" dy="-8.68">-1</tspan></text>
<text x="99" y="64.6" font-size="30.5" text-anchor="start" font-weight="bold" fill="#000">(a)</text>
<text x="334.8" y="462.7" font-size="24" text-anchor="middle" font-weight="normal" fill="#1a1a1a">Potential vs E<tspan font-size="16" dy="6.5">Ag/AgCl</tspan><tspan dy="-6.5"> (V)</tspan></text>
<text x="32.5" y="207.6" font-size="24" text-anchor="middle" font-weight="normal" fill="#1a1a1a" transform="rotate(-90 32.5 207.6)">Current (mA)</text>
<g clip-path="url(#clipB)">
<path d="M707.5,393.7 L707.5,357 L707.50,357.00 L707.59,353.87 L707.70,350.75 L707.81,347.63 L707.94,344.53 L708.08,341.43 L708.22,338.33 L708.38,335.25 L708.55,332.17 L708.73,329.09 L708.91,326.02 L709.11,322.96 L709.31,319.90 L709.52,316.84 L709.74,313.79 L709.97,310.74 L710.20,307.69 L710.44,304.65 L710.68,301.61 L710.93,298.57 L711.19,295.53 L711.45,292.50 L711.72,289.46 L711.99,286.43 L712.27,283.39 L712.55,280.36 L712.83,277.32 L713.12,274.29 L713.41,271.25 L713.70,268.21 L713.99,265.17 L714.29,262.13 L714.59,259.08 L714.88,256.03 L715.18,252.98 L715.48,249.92 L715.78,246.86 L716.08,243.80 L716.38,240.73 L716.67,237.65 L716.97,234.57 L717.27,231.49 L717.56,228.40 L717.85,225.30 L718.13,222.19 L718.42,219.08 L718.71,215.96 L719.00,212.84 L719.30,209.72 L719.62,206.60 L719.96,203.48 L720.32,200.38 L720.72,197.28 L721.15,194.19 L721.61,191.12 L722.13,188.06 L722.69,185.03 L723.30,182.01 L723.97,179.02 L724.70,176.06 L725.51,173.12 L726.38,170.22 L727.33,167.35 L728.36,164.51 L729.48,161.71 L730.69,158.96 L731.99,156.24 L733.39,153.58 L734.90,150.96 L736.52,148.39 L738.25,145.87 L740.10,143.42 L742.05,141.03 L744.11,138.73 L746.26,136.51 L748.52,134.40 L750.87,132.38 L753.31,130.49 L755.84,128.71 L758.46,127.07 L761.16,125.57 L763.94,124.21 L766.78,122.97 L769.66,121.83 L772.58,120.76 L775.52,119.74 L778.46,118.74 L781.40,117.77 L784.35,116.82 L787.30,115.91 L790.26,115.03 L793.22,114.19 L796.19,113.40 L799.17,112.65 L802.15,111.95 L805.14,111.30 L808.14,110.69 L811.15,110.13 L814.16,109.62 L817.18,109.14 L820.21,108.71 L823.24,108.31 L826.28,107.95 L829.33,107.63 L832.38,107.33 L835.43,107.07 L838.49,106.83 L841.55,106.63 L844.62,106.44 L847.69,106.28 L850.77,106.14 L853.84,106.02 L856.92,105.91 L860.01,105.82 L863.09,105.75 L866.18,105.68 L869.26,105.63 L872.35,105.58 L875.44,105.54 L878.53,105.50 L881.62,105.47 L884.72,105.43 L887.81,105.39 L890.90,105.35 L893.98,105.31 L897.07,105.26 L900.16,105.19 L903.24,105.12 L906.32,105.03 L909.40,104.93 L912.48,104.82 L915.56,104.68 L918.63,104.52 L921.69,104.35 L924.76,104.14 L927.81,103.91 L930.87,103.66 L933.92,103.37 L936.96,103.05 L940.00,102.70 L948.7,102.7 L961.9,99.8 L982.3,96.9 L989.6,97.6 L1007.8,93.7 L1015.8,96.1 L1026.0,97.2 L1042.0,94.7 L1053.7,95.1 L1061.0,92.8 L1074.1,92.2 L1094.5,86.7 L1107.4,84.9 L1107.40,84.90 L1107.49,88.20 L1107.58,91.50 L1107.66,94.81 L1107.73,98.13 L1107.79,101.46 L1107.84,104.80 L1107.89,108.14 L1107.93,111.49 L1107.97,114.85 L1108.01,118.21 L1108.04,121.58 L1108.06,124.95 L1108.09,128.33 L1108.11,131.72 L1108.13,135.10 L1108.15,138.50 L1108.17,141.90 L1108.20,145.30 L1108.22,148.70 L1108.25,152.11 L1108.28,155.53 L1108.31,158.94 L1108.34,162.36 L1108.38,165.78 L1108.43,169.20 L1108.48,172.62 L1108.54,176.04 L1108.61,179.47 L1108.68,182.89 L1108.77,186.32 L1108.86,189.75 L1108.96,193.17 L1109.07,196.60 L1109.20,200.02 L1109.33,203.44 L1109.48,206.86 L1109.64,210.28 L1109.82,213.70 L1110.01,217.12 L1110.21,220.53 L1110.43,223.94 L1110.67,227.35 L1110.93,230.75 L1111.20,234.15 L1111.49,237.54 L1111.80,240.93 L1112.12,244.32 L1112.47,247.70 L1112.84,251.08 L1113.23,254.45 L1113.65,257.81 L1114.08,261.17 L1114.54,264.52 L1115.02,267.86 L1115.53,271.20 L1116.07,274.53 L1116.63,277.85 L1117.21,281.17 L1117.83,284.47 L1118.47,287.77 L1119.14,291.06 L1119.84,294.34 L1120.57,297.61 L1121.33,300.87 L1122.12,304.12 L1122.94,307.36 L1123.80,310.59 L1124.69,313.81 L1125.61,317.01 L1126.57,320.21 L1127.56,323.39 L1128.59,326.56 L1129.65,329.72 L1130.75,332.87 L1131.89,336.00 L1133.07,339.12 L1134.28,342.22 L1135.54,345.32 L1136.84,348.39 L1138.17,351.46 L1139.55,354.51 L1140.97,357.54 L1142.43,360.56 L1143.94,363.56 L1145.49,366.55 L1147.09,369.51 L1148.73,372.47 L1150.42,375.40 L1152.15,378.32 L1153.93,381.22 L1155.76,384.11 L1157.64,386.97 L1159.57,389.82 L1161.54,392.65 L1163.57,395.46 L1165.65,398.25 L1167.78,401.02 L1169.96,403.77 L1172.20,406.50" fill="none" stroke="#515151" stroke-width="3.4" stroke-linejoin="round" stroke-linecap="round"/>
<path d="M707.50,357.00 L707.76,354.09 L708.01,351.19 L708.26,348.28 L708.50,345.38 L708.74,342.47 L708.97,339.57 L709.20,336.66 L709.42,333.76 L709.64,330.86 L709.86,327.95 L710.07,325.05 L710.28,322.15 L710.49,319.25 L710.70,316.34 L710.90,313.44 L711.11,310.54 L711.31,307.64 L711.51,304.74 L711.72,301.84 L711.92,298.94 L712.13,296.04 L712.33,293.14 L712.54,290.24 L712.75,287.35 L712.96,284.45 L713.18,281.55 L713.39,278.65 L713.62,275.75 L713.84,272.85 L714.07,269.96 L714.30,267.06 L714.54,264.16 L714.79,261.27 L715.04,258.37 L715.30,255.47 L715.56,252.58 L715.83,249.68 L716.11,246.78 L716.39,243.89 L716.68,240.99 L716.98,238.10 L717.29,235.20 L717.61,232.30 L717.94,229.41 L718.28,226.51 L718.63,223.62 L718.99,220.72 L719.36,217.82 L719.74,214.93 L720.13,212.03 L720.54,209.14 L720.96,206.24 L721.39,203.35 L721.83,200.45 L722.29,197.55 L722.77,194.66 L723.25,191.76 L723.76,188.87 L724.28,185.98 L724.82,183.09 L725.39,180.21 L725.98,177.34 L726.59,174.47 L727.22,171.61 L727.89,168.77 L728.58,165.93 L729.30,163.10 L730.05,160.29 L730.84,157.49 L731.66,154.70 L732.51,151.93 L733.41,149.18 L734.34,146.45 L735.31,143.73 L736.32,141.04 L737.38,138.37 L738.47,135.72 L739.62,133.09 L740.81,130.49 L742.05,127.91 L743.34,125.36 L744.69,122.84 L746.08,120.35 L747.53,117.88 L749.04,115.45 L750.60,113.05 L752.22,110.69 L753.90,108.35 L755.64,106.06 L757.45,103.80 L759.31,101.58 L761.24,99.39 L763.23,97.25 L765.29,95.15 L767.41,93.09 L769.61,91.07 L771.87,89.10 L774.20,87.18 L776.60,85.30 L776.60,85.30 L776.68,88.58 L776.74,91.85 L776.80,95.13 L776.85,98.41 L776.89,101.70 L776.93,104.98 L776.96,108.27 L776.98,111.56 L777.00,114.85 L777.01,118.14 L777.02,121.43 L777.02,124.73 L777.03,128.02 L777.03,131.32 L777.03,134.61 L777.02,137.91 L777.02,141.21 L777.02,144.51 L777.02,147.81 L777.02,151.11 L777.02,154.41 L777.03,157.71 L777.04,161.01 L777.05,164.31 L777.07,167.61 L777.09,170.91 L777.12,174.21 L777.15,177.51 L777.19,180.81 L777.24,184.11 L777.30,187.41 L777.37,190.71 L777.44,194.00 L777.53,197.30 L777.62,200.59 L777.73,203.89 L777.85,207.18 L777.98,210.47 L778.13,213.76 L778.29,217.05 L778.46,220.33 L778.65,223.62 L778.85,226.90 L779.07,230.18 L779.31,233.46 L779.56,236.73 L779.83,240.01 L780.12,243.28 L780.43,246.55 L780.76,249.82 L781.11,253.08 L781.48,256.34 L781.87,259.60 L782.29,262.85 L782.72,266.11 L783.18,269.35 L783.66,272.60 L784.15,275.84 L784.67,279.09 L785.21,282.32 L785.77,285.56 L786.34,288.79 L786.93,292.02 L787.55,295.25 L788.18,298.47 L788.82,301.69 L789.49,304.91 L790.17,308.12 L790.86,311.34 L791.57,314.55 L792.30,317.75 L793.04,320.96 L793.80,324.16 L794.57,327.36 L795.36,330.56 L796.16,333.75 L796.97,336.94 L797.80,340.13 L798.63,343.32 L799.48,346.50 L800.34,349.68 L801.22,352.86 L802.10,356.03 L802.99,359.21 L803.90,362.38 L804.81,365.54 L805.73,368.71 L806.66,371.87 L807.61,375.03 L808.55,378.19 L809.51,381.35 L810.47,384.50 L811.45,387.65 L812.42,390.80 L813.41,393.94 L814.40,397.09 L815.39,400.23 L816.40,403.36 L817.40,406.50" fill="none" stroke="#f44141" stroke-width="3.4" stroke-linejoin="round" stroke-linecap="round"/>
<path d="M707.5,356 L707.5,318 L711,285 L713.5,260 L715.2,170 L716.9,86 L717.6,100 L719.2,260 L723.3,350 L725,406.5" fill="none" stroke="#1a66e0" stroke-width="3" stroke-linejoin="round" stroke-linecap="round"/>
<path d="M707.5,318 L707.5,285 L709,240 L711.5,85 L712.3,160 L712.8,250 L713.8,320 L714.8,406.5" fill="none" stroke="#31ab69" stroke-width="2.2" stroke-linejoin="round" stroke-linecap="round"/>
<path d="M707.5,284 L707.6,250 L708.5,160 L709.8,85 L710.8,120 L711.2,250 L711.1,300 L711.1,406.5" fill="none" stroke="#b274de" stroke-width="3.2" stroke-linejoin="round" stroke-linecap="round"/>
</g>
<rect x="702.4" y="26.3" width="499.4" height="380.6" fill="none" stroke="#3a3a3a" stroke-width="1.5"/>
<line x1="702.4" y1="406.9" x2="708.9" y2="406.9" stroke="#3a3a3a" stroke-width="1.5"/>
<line x1="702.4" y1="348.35" x2="708.9" y2="348.35" stroke="#3a3a3a" stroke-width="1.5"/>
<line x1="702.4" y1="289.79" x2="708.9" y2="289.79" stroke="#3a3a3a" stroke-width="1.5"/>
<line x1="702.4" y1="231.24" x2="708.9" y2="231.24" stroke="#3a3a3a" stroke-width="1.5"/>
<line x1="702.4" y1="172.68" x2="708.9" y2="172.68" stroke="#3a3a3a" stroke-width="1.5"/>
<line x1="702.4" y1="114.13" x2="708.9" y2="114.13" stroke="#3a3a3a" stroke-width="1.5"/>
<line x1="702.4" y1="55.58" x2="708.9" y2="55.58" stroke="#3a3a3a" stroke-width="1.5"/>
<line x1="702.4" y1="377.62" x2="705.9" y2="377.62" stroke="#3a3a3a" stroke-width="1.5"/>
<line x1="702.4" y1="319.07" x2="705.9" y2="319.07" stroke="#3a3a3a" stroke-width="1.5"/>
<line x1="702.4" y1="260.52" x2="705.9" y2="260.52" stroke="#3a3a3a" stroke-width="1.5"/>
<line x1="702.4" y1="201.96" x2="705.9" y2="201.96" stroke="#3a3a3a" stroke-width="1.5"/>
<line x1="702.4" y1="143.41" x2="705.9" y2="143.41" stroke="#3a3a3a" stroke-width="1.5"/>
<line x1="702.4" y1="84.85" x2="705.9" y2="84.85" stroke="#3a3a3a" stroke-width="1.5"/>
<text x="692.9" y="412.96" font-size="20.2" text-anchor="end" font-weight="normal" fill="#1a1a1a">0</text>
<text x="692.9" y="354.41" font-size="20.2" text-anchor="end" font-weight="normal" fill="#1a1a1a">0.2</text>
<text x="692.9" y="295.85" font-size="20.2" text-anchor="end" font-weight="normal" fill="#1a1a1a">0.4</text>
<text x="692.9" y="237.3" font-size="20.2" text-anchor="end" font-weight="normal" fill="#1a1a1a">0.6</text>
<text x="692.9" y="178.74" font-size="20.2" text-anchor="end" font-weight="normal" fill="#1a1a1a">0.8</text>
<text x="692.9" y="120.19" font-size="20.2" text-anchor="end" font-weight="normal" fill="#1a1a1a">1</text>
<text x="692.9" y="61.64" font-size="20.2" text-anchor="end" font-weight="normal" fill="#1a1a1a">1.2</text>
<line x1="707.3" y1="406.9" x2="707.3" y2="400.4" stroke="#3a3a3a" stroke-width="1.5"/>
<line x1="769.11" y1="406.9" x2="769.11" y2="400.4" stroke="#3a3a3a" stroke-width="1.5"/>
<line x1="830.92" y1="406.9" x2="830.92" y2="400.4" stroke="#3a3a3a" stroke-width="1.5"/>
<line x1="892.74" y1="406.9" x2="892.74" y2="400.4" stroke="#3a3a3a" stroke-width="1.5"/>
<line x1="954.55" y1="406.9" x2="954.55" y2="400.4" stroke="#3a3a3a" stroke-width="1.5"/>
<line x1="1016.36" y1="406.9" x2="1016.36" y2="400.4" stroke="#3a3a3a" stroke-width="1.5"/>
<line x1="1078.17" y1="406.9" x2="1078.17" y2="400.4" stroke="#3a3a3a" stroke-width="1.5"/>
<line x1="1139.99" y1="406.9" x2="1139.99" y2="400.4" stroke="#3a3a3a" stroke-width="1.5"/>
<line x1="1201.8" y1="406.9" x2="1201.8" y2="400.4" stroke="#3a3a3a" stroke-width="1.5"/>
<line x1="738.21" y1="406.9" x2="738.21" y2="403.4" stroke="#3a3a3a" stroke-width="1.5"/>
<line x1="800.02" y1="406.9" x2="800.02" y2="403.4" stroke="#3a3a3a" stroke-width="1.5"/>
<line x1="861.83" y1="406.9" x2="861.83" y2="403.4" stroke="#3a3a3a" stroke-width="1.5"/>
<line x1="923.64" y1="406.9" x2="923.64" y2="403.4" stroke="#3a3a3a" stroke-width="1.5"/>
<line x1="985.46" y1="406.9" x2="985.46" y2="403.4" stroke="#3a3a3a" stroke-width="1.5"/>
<line x1="1047.27" y1="406.9" x2="1047.27" y2="403.4" stroke="#3a3a3a" stroke-width="1.5"/>
<line x1="1109.08" y1="406.9" x2="1109.08" y2="403.4" stroke="#3a3a3a" stroke-width="1.5"/>
<line x1="1170.89" y1="406.9" x2="1170.89" y2="403.4" stroke="#3a3a3a" stroke-width="1.5"/>
<text x="707.3" y="430.2" font-size="20.2" text-anchor="middle" font-weight="normal" fill="#1a1a1a">0</text>
<text x="769.11" y="430.2" font-size="20.2" text-anchor="middle" font-weight="normal" fill="#1a1a1a">250</text>
<text x="830.92" y="430.2" font-size="20.2" text-anchor="middle" font-weight="normal" fill="#1a1a1a">500</text>
<text x="892.74" y="430.2" font-size="20.2" text-anchor="middle" font-weight="normal" fill="#1a1a1a">750</text>
<text x="954.55" y="430.2" font-size="20.2" text-anchor="middle" font-weight="normal" fill="#1a1a1a">1000</text>
<text x="1016.36" y="430.2" font-size="20.2" text-anchor="middle" font-weight="normal" fill="#1a1a1a">1250</text>
<text x="1078.17" y="430.2" font-size="20.2" text-anchor="middle" font-weight="normal" fill="#1a1a1a">1500</text>
<text x="1139.99" y="430.2" font-size="20.2" text-anchor="middle" font-weight="normal" fill="#1a1a1a">1750</text>
<text x="1201.8" y="430.2" font-size="20.2" text-anchor="middle" font-weight="normal" fill="#1a1a1a">2000</text>
<line x1="958.9" y1="264.1" x2="999.4" y2="264.1" stroke="#515151" stroke-width="3.4" stroke-linecap="round"/>
<text x="1006" y="270.4" font-size="22" text-anchor="start" font-weight="normal" fill="#1a1a1a" word-spacing="1.2">0.5 A g<tspan font-size="15.5" dy="-8.68">-1</tspan></text>
<line x1="958.9" y1="294.25" x2="999.4" y2="294.25" stroke="#f44141" stroke-width="3.4" stroke-linecap="round"/>
<text x="1006" y="300.55" font-size="22" text-anchor="start" font-weight="normal" fill="#1a1a1a" word-spacing="1.2">1.0 A g<tspan font-size="15.5" dy="-8.68">-1</tspan></text>
<line x1="958.9" y1="324.4" x2="999.4" y2="324.4" stroke="#1a66e0" stroke-width="3.4" stroke-linecap="round"/>
<text x="1006" y="330.7" font-size="22" text-anchor="start" font-weight="normal" fill="#1a1a1a" word-spacing="1.2">2.5 A g<tspan font-size="15.5" dy="-8.68">-1</tspan></text>
<line x1="958.9" y1="354.55" x2="999.4" y2="354.55" stroke="#31ab69" stroke-width="3.4" stroke-linecap="round"/>
<text x="1006" y="360.85" font-size="22" text-anchor="start" font-weight="normal" fill="#1a1a1a" word-spacing="1.2">3.5 A g<tspan font-size="15.5" dy="-8.68">-1</tspan></text>
<line x1="958.9" y1="384.7" x2="999.4" y2="384.7" stroke="#b274de" stroke-width="3.4" stroke-linecap="round"/>
<text x="1006" y="391" font-size="22" text-anchor="start" font-weight="normal" fill="#1a1a1a" word-spacing="1.2">5.0 A g<tspan font-size="15.5" dy="-8.68">-1</tspan></text>
<text x="709.8" y="63" font-size="30.5" text-anchor="start" font-weight="bold" fill="#000">(b)</text>
<text x="952.1" y="462.2" font-size="24" text-anchor="middle" font-weight="normal" fill="#1a1a1a">Time (s)</text>
<text x="637.5" y="213" font-size="24" text-anchor="middle" font-weight="normal" fill="#1a1a1a" transform="rotate(-90 637.5 213)">Potential vs E<tspan font-size="16" dy="6.5">Ag/AgCl</tspan><tspan dy="-6.5"> (V)</tspan></text>
<rect x="122.4" y="602.44" width="20" height="265.16" fill="#515151" stroke="#2a2a2a" stroke-width="1"/>
<text x="132.4" y="597.24" font-size="24.7" text-anchor="middle" font-weight="normal" fill="#1a1a1a">105</text>
<rect x="166.9" y="627.69" width="20" height="239.91" fill="#f44141" stroke="#2a2a2a" stroke-width="1"/>
<text x="176.9" y="622.49" font-size="24.7" text-anchor="middle" font-weight="normal" fill="#1a1a1a">95</text>
<rect x="300.4" y="728.71" width="20" height="138.89" fill="#1a66e0" stroke="#2a2a2a" stroke-width="1"/>
<text x="310.4" y="723.51" font-size="24.7" text-anchor="middle" font-weight="normal" fill="#1a1a1a">55</text>
<rect x="389.4" y="766.59" width="20" height="101.01" fill="#31ab69" stroke="#2a2a2a" stroke-width="1"/>
<text x="399.4" y="761.39" font-size="24.7" text-anchor="middle" font-weight="normal" fill="#1a1a1a">40</text>
<rect x="522.9" y="779.21" width="20" height="88.39" fill="#b274de" stroke="#2a2a2a" stroke-width="1"/>
<text x="532.9" y="774.01" font-size="24.7" text-anchor="middle" font-weight="normal" fill="#1a1a1a">35</text>
<rect x="82.5" y="488.8" width="500.5" height="378.8" fill="none" stroke="#3a3a3a" stroke-width="1.5"/>
<line x1="82.5" y1="867.6" x2="89" y2="867.6" stroke="#3a3a3a" stroke-width="1.5"/>
<line x1="82.5" y1="804.47" x2="89" y2="804.47" stroke="#3a3a3a" stroke-width="1.5"/>
<line x1="82.5" y1="741.33" x2="89" y2="741.33" stroke="#3a3a3a" stroke-width="1.5"/>
<line x1="82.5" y1="678.2" x2="89" y2="678.2" stroke="#3a3a3a" stroke-width="1.5"/>
<line x1="82.5" y1="615.07" x2="89" y2="615.07" stroke="#3a3a3a" stroke-width="1.5"/>
<line x1="82.5" y1="551.93" x2="89" y2="551.93" stroke="#3a3a3a" stroke-width="1.5"/>
<line x1="82.5" y1="488.8" x2="89" y2="488.8" stroke="#3a3a3a" stroke-width="1.5"/>
<line x1="82.5" y1="836.03" x2="86" y2="836.03" stroke="#3a3a3a" stroke-width="1.5"/>
<line x1="82.5" y1="772.9" x2="86" y2="772.9" stroke="#3a3a3a" stroke-width="1.5"/>
<line x1="82.5" y1="709.77" x2="86" y2="709.77" stroke="#3a3a3a" stroke-width="1.5"/>
<line x1="82.5" y1="646.63" x2="86" y2="646.63" stroke="#3a3a3a" stroke-width="1.5"/>
<line x1="82.5" y1="583.5" x2="86" y2="583.5" stroke="#3a3a3a" stroke-width="1.5"/>
<line x1="82.5" y1="520.37" x2="86" y2="520.37" stroke="#3a3a3a" stroke-width="1.5"/>
<text x="73.7" y="873.66" font-size="20.2" text-anchor="end" font-weight="normal" fill="#1a1a1a">0</text>
<text x="73.7" y="810.53" font-size="20.2" text-anchor="end" font-weight="normal" fill="#1a1a1a">25</text>
<text x="73.7" y="747.39" font-size="20.2" text-anchor="end" font-weight="normal" fill="#1a1a1a">50</text>
<text x="73.7" y="684.26" font-size="20.2" text-anchor="end" font-weight="normal" fill="#1a1a1a">75</text>
<text x="73.7" y="621.13" font-size="20.2" text-anchor="end" font-weight="normal" fill="#1a1a1a">100</text>
<text x="73.7" y="557.99" font-size="20.2" text-anchor="end" font-weight="normal" fill="#1a1a1a">125</text>
<text x="73.7" y="494.86" font-size="20.2" text-anchor="end" font-weight="normal" fill="#1a1a1a">150</text>
<text x="132.4" y="890.6" font-size="20.2" text-anchor="middle" font-weight="normal" fill="#1a1a1a">0.5</text>
<text x="176.9" y="890.6" font-size="20.2" text-anchor="middle" font-weight="normal" fill="#1a1a1a">1</text>
<text x="310.4" y="890.6" font-size="20.2" text-anchor="middle" font-weight="normal" fill="#1a1a1a">2.5</text>
<text x="399.4" y="890.6" font-size="20.2" text-anchor="middle" font-weight="normal" fill="#1a1a1a">3.5</text>
<text x="532.9" y="890.6" font-size="20.2" text-anchor="middle" font-weight="normal" fill="#1a1a1a">5</text>
<text x="91.5" y="526" font-size="30.5" text-anchor="start" font-weight="bold" fill="#000">(c)</text>
<text x="332.8" y="925.5" font-size="24" text-anchor="middle" font-weight="normal" fill="#1a1a1a">Current density (A g<tspan font-size="16.5" dy="-8.58">-1</tspan><tspan dy="8.58">)</tspan></text>
<text x="28.7" y="676.7" font-size="24" text-anchor="middle" font-weight="normal" fill="#1a1a1a" transform="rotate(-90 28.7 676.7)">Specific capacity (C g<tspan font-size="16.5" dy="-8.58">-1</tspan><tspan dy="8.58">)</tspan></text>
<rect x="749.3" y="815.89" width="20" height="55.41" fill="#515151" stroke="#2a2a2a" stroke-width="1"/>
<text x="759.3" y="810.69" font-size="24.7" text-anchor="middle" font-weight="normal" fill="#1a1a1a">19</text>
<rect x="793.67" y="687.58" width="20" height="183.72" fill="#f44141" stroke="#2a2a2a" stroke-width="1"/>
<text x="803.67" y="682.38" font-size="24.7" text-anchor="middle" font-weight="normal" fill="#1a1a1a">63</text>
<rect x="926.8" y="614.68" width="20" height="256.62" fill="#1a66e0" stroke="#2a2a2a" stroke-width="1"/>
<text x="936.8" y="609.48" font-size="24.7" text-anchor="middle" font-weight="normal" fill="#1a1a1a">88</text>
<rect x="1015.55" y="559.27" width="20" height="312.03" fill="#31ab69" stroke="#2a2a2a" stroke-width="1"/>
<text x="1025.55" y="554.07" font-size="24.7" text-anchor="middle" font-weight="normal" fill="#1a1a1a">107</text>
<rect x="1148.67" y="544.69" width="20" height="326.61" fill="#b274de" stroke="#2a2a2a" stroke-width="1"/>
<text x="1158.67" y="539.49" font-size="24.7" text-anchor="middle" font-weight="normal" fill="#1a1a1a">112</text>
<rect x="709.6" y="492.2" width="499.1" height="379.1" fill="none" stroke="#3a3a3a" stroke-width="1.5"/>
<line x1="709.6" y1="871.3" x2="716.1" y2="871.3" stroke="#3a3a3a" stroke-width="1.5"/>
<line x1="709.6" y1="798.4" x2="716.1" y2="798.4" stroke="#3a3a3a" stroke-width="1.5"/>
<line x1="709.6" y1="725.49" x2="716.1" y2="725.49" stroke="#3a3a3a" stroke-width="1.5"/>
<line x1="709.6" y1="652.59" x2="716.1" y2="652.59" stroke="#3a3a3a" stroke-width="1.5"/>
<line x1="709.6" y1="579.68" x2="716.1" y2="579.68" stroke="#3a3a3a" stroke-width="1.5"/>
<line x1="709.6" y1="506.78" x2="716.1" y2="506.78" stroke="#3a3a3a" stroke-width="1.5"/>
<line x1="709.6" y1="834.85" x2="713.1" y2="834.85" stroke="#3a3a3a" stroke-width="1.5"/>
<line x1="709.6" y1="761.94" x2="713.1" y2="761.94" stroke="#3a3a3a" stroke-width="1.5"/>
<line x1="709.6" y1="689.04" x2="713.1" y2="689.04" stroke="#3a3a3a" stroke-width="1.5"/>
<line x1="709.6" y1="616.14" x2="713.1" y2="616.14" stroke="#3a3a3a" stroke-width="1.5"/>
<line x1="709.6" y1="543.23" x2="713.1" y2="543.23" stroke="#3a3a3a" stroke-width="1.5"/>
<text x="700.1" y="877.36" font-size="20.2" text-anchor="end" font-weight="normal" fill="#1a1a1a">0</text>
<text x="700.1" y="804.46" font-size="20.2" text-anchor="end" font-weight="normal" fill="#1a1a1a">25</text>
<text x="700.1" y="731.55" font-size="20.2" text-anchor="end" font-weight="normal" fill="#1a1a1a">50</text>
<text x="700.1" y="658.65" font-size="20.2" text-anchor="end" font-weight="normal" fill="#1a1a1a">75</text>
<text x="700.1" y="585.74" font-size="20.2" text-anchor="end" font-weight="normal" fill="#1a1a1a">100</text>
<text x="700.1" y="512.84" font-size="20.2" text-anchor="end" font-weight="normal" fill="#1a1a1a">125</text>
<text x="759.3" y="894.3" font-size="20.2" text-anchor="middle" font-weight="normal" fill="#1a1a1a">0.5</text>
<text x="803.67" y="894.3" font-size="20.2" text-anchor="middle" font-weight="normal" fill="#1a1a1a">1</text>
<text x="936.8" y="894.3" font-size="20.2" text-anchor="middle" font-weight="normal" fill="#1a1a1a">2.5</text>
<text x="1025.55" y="894.3" font-size="20.2" text-anchor="middle" font-weight="normal" fill="#1a1a1a">3.5</text>
<text x="1158.67" y="894.3" font-size="20.2" text-anchor="middle" font-weight="normal" fill="#1a1a1a">5</text>
<text x="715.9" y="532.6" font-size="30.5" text-anchor="start" font-weight="bold" fill="#000">(d)</text>
<text x="959.2" y="929.4" font-size="24" text-anchor="middle" font-weight="normal" fill="#1a1a1a">Current Density (A g<tspan font-size="16.5" dy="-8.58">-1</tspan><tspan dy="8.58">)</tspan></text>
<text x="657.5" y="686.2" font-size="24" text-anchor="middle" font-weight="normal" fill="#1a1a1a" transform="rotate(-90 657.5 686.2)">Energy efficiency (%)</text>
</svg>
</body></html>
